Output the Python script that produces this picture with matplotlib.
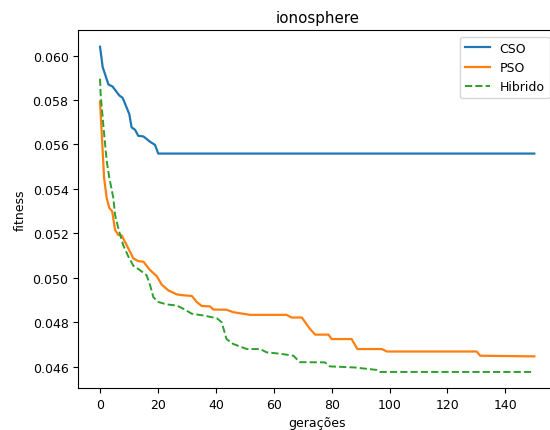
import numpy as np
import matplotlib
matplotlib.use('Agg')
import matplotlib.pyplot as plt

plt.rcParams['font.size'] = 9
#
# best fitness per generation (polyline vertices)
cso_gen = [0, 0.9, 2.9, 4.3, 6.7, 7.8, 10.1, 10.9, 12.1, 13.2, 15, 17.3, 19, 20.1, 150]
cso_fit = [0.06040, 0.05949, 0.05870, 0.05861, 0.05820, 0.05810, 0.05737, 0.05677,
           0.05666, 0.05639, 0.05636, 0.05612, 0.05598, 0.05559, 0.05559]

pso_gen = [0, 1.4, 2.3, 3.2, 4.2, 5.2, 6.3, 7.5, 9.2, 11.5, 13.2, 15, 17.3, 19.6, 21.3,
           23.6, 26.5, 28.8, 31.7, 33.4, 35.1, 38, 39.1, 43.7, 46, 51.8, 64.4, 66.2,
           69.7, 72.5, 74.3, 78.9, 80, 86.9, 88.9, 97.3, 99.1, 130.1, 131.3, 150]
pso_fit = [0.05794, 0.05450, 0.05359, 0.05314, 0.05299, 0.05215, 0.05193, 0.05190,
           0.05147, 0.05087, 0.05075, 0.05072, 0.05034, 0.05007, 0.04969, 0.04943,
           0.04925, 0.04921, 0.04918, 0.04891, 0.04873, 0.04871, 0.04857, 0.04856,
           0.04845, 0.04833, 0.04833, 0.04821, 0.04821, 0.04770, 0.04744, 0.04744,
           0.04724, 0.04724, 0.04679, 0.04679, 0.04668, 0.04668, 0.04649, 0.04646]

hib_gen = [0, 0.2, 1.2, 2.3, 3.2, 4.6, 5.2, 6.3, 8.0, 9.8, 11.5, 13.8, 16.1, 17.3, 18.4,
           20.1, 23, 26.5, 28.8, 31.7, 35.7, 40.3, 42, 43.7, 46, 50.7, 55.3, 57.6,
           62.2, 66.8, 69, 77.7, 79.4, 88, 95.6, 96.7, 150]
hib_fit = [0.05896, 0.05828, 0.05677, 0.05526, 0.05450, 0.05359, 0.05283, 0.05223,
           0.05147, 0.05095, 0.05054, 0.05034, 0.05011, 0.04966, 0.04913, 0.04891,
           0.04880, 0.04875, 0.04860, 0.04838, 0.04830, 0.04818, 0.04800, 0.04724,
           0.04702, 0.04679, 0.04679, 0.04664, 0.04658, 0.04649, 0.04620, 0.04619,
           0.04601, 0.04596, 0.04585, 0.04576, 0.04576]

labels = ['CSO', 'PSO', 'Hibrido']
#
fig = plt.figure(figsize=(5.5, 4.31), dpi=100)
ax = fig.add_axes([0.1424, 0.097, 0.8685, 0.830])
ax.plot(cso_gen, cso_fit, '-', color='#1f77b4', lw=1.6, label=labels[0])
ax.plot(pso_gen, pso_fit, '-', color='#ff7f0e', lw=1.6, label=labels[1])
ax.plot(hib_gen, hib_fit, '--', color='#2ca02c', lw=1.4, label=labels[2])
ax.set_xticks(np.arange(0, 141, 20))
ax.set_yticks([0.046, 0.048, 0.050, 0.052, 0.054, 0.056, 0.058, 0.060])
ax.set_xlabel('gerações')
ax.set_ylabel('fitness')
ax.set_title('ionosphere')
ax.legend(loc='upper right')
fig.savefig('out.png', dpi=100)
